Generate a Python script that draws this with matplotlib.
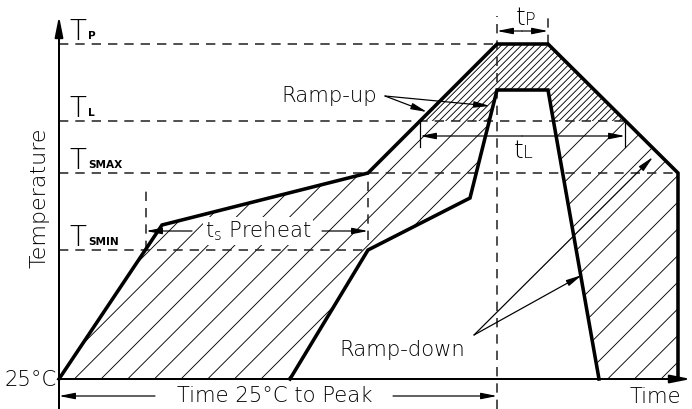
import numpy as np
import matplotlib
matplotlib.use("Agg")
import matplotlib.pyplot as plt
from matplotlib.patches import Polygon, Rectangle

# profile data (time units / temperature units, origin = 25°C at t=0)
outer_t = [0, 103, 309, 438, 489, 619, 619]
outer_T = [0, 154, 206, 335, 335, 206, 0]
inner_t = [231, 309, 411, 438, 489, 540]
inner_T = [0, 129, 181, 289, 289, 0]

level_names = ['P', 'L', 'SMAX', 'SMIN']
level_vals = [335, 258, 206, 129]
level_ends = [438, 566, 619, 309]

t_peak = 438
t_peak_end = 489
ts_start, ts_end = 87, 309
tl_start, tl_end = 361, 566

plt.rcParams['font.family'] = 'DejaVu Sans'
plt.rcParams['hatch.linewidth'] = 0.8

# low dpi so the hatch spacing matches the drawing
DPI = 80
fig = plt.figure(figsize=(692 / DPI, 409 / DPI), dpi=DPI)
ax = fig.add_axes([0, 0, 1, 1])
ax.set_xlim(-59, 633)
ax.set_ylim(-30, 379)
ax.axis('off')

T_P, T_L, T_SMAX, T_SMIN = level_vals
FS = 19

# hatched area between outer and inner profile
outer_xy = np.column_stack([outer_t, outer_T])
inner_xy = np.column_stack([inner_t, inner_T])

sparse = Polygon(outer_xy, closed=True, facecolor='none', edgecolor='k', lw=0, hatch='/', zorder=1)
dense = Polygon(outer_xy, closed=True, facecolor='none', edgecolor='k', lw=0, hatch='////', zorder=1)
ax.add_patch(sparse)
ax.add_patch(dense)
sparse.set_clip_path(Rectangle((-100, -100), 900, T_L + 100, transform=ax.transData))
dense.set_clip_path(Rectangle((-100, T_L), 900, 300, transform=ax.transData))
ax.add_patch(Polygon(inner_xy, closed=True, facecolor='white', edgecolor='none', zorder=2))

# dashed guide lines
dash = dict(color='#222222', lw=1.4, dashes=(6, 4.5), zorder=3)
for val, end in zip(level_vals, level_ends):
    ax.plot([0, end], [val, val], **dash)
ax.plot([t_peak, t_peak], [-30, 363], **dash)
ax.plot([t_peak_end, t_peak_end], [T_P, 363], **dash)
ax.plot([ts_start, ts_start], [T_SMIN, 189], **dash)
ax.plot([ts_end, ts_end], [139, T_SMAX], **dash)

# profiles
ax.plot(outer_t, outer_T, color='k', lw=3.2, solid_joinstyle='miter', zorder=4)
ax.plot(inner_t, inner_T, color='k', lw=3.2, solid_joinstyle='miter', zorder=4)

# axes with arrows
axis_arrow = dict(arrowstyle='-|>,head_length=1.1,head_width=0.22', color='k',
                  lw=1.8, shrinkA=0, shrinkB=0, mutation_scale=14)
ax.annotate('', xy=(0, 363), xytext=(0, -30), arrowprops=axis_arrow, zorder=5)
ax.annotate('', xy=(632, 0), xytext=(0, 0), arrowprops=axis_arrow, zorder=5)


def arrow(tip, start):
    ax.annotate('', xy=tip, xytext=start,
                arrowprops=dict(arrowstyle='-|>,head_length=0.85,head_width=0.17', color='k',
                                lw=1.1, shrinkA=0, shrinkB=0, mutation_scale=14), zorder=5)


# t_P
arrow((t_peak, 348), (463, 348))
arrow((t_peak_end, 348), (463, 348))
ax.text(457, 354, 't', fontsize=22, fontweight='light', ha='left', va='baseline')
ax.text(466, 354, 'P', fontsize=16, fontweight='light', ha='left', va='baseline')

# t_L
ax.plot([tl_start, tl_start], [232, T_L], color='k', lw=1.1, zorder=5)
ax.plot([tl_end, tl_end], [232, T_L], color='k', lw=1.1, zorder=5)
arrow((tl_start, 243), (463, 243))
arrow((tl_end, 243), (463, 243))
ax.text(455, 221, 't', fontsize=22, fontweight='light', ha='left', va='baseline')
ax.text(464, 221, 'L', fontsize=16, fontweight='light', ha='left', va='baseline')

# preheat
arrow((ts_start, 148), (133, 148))
arrow((ts_end, 148), (263, 148))
ax.text(199, 148, r'$\mathregular{t_s}$ Preheat', fontsize=FS, fontweight='light',
        ha='center', va='center',
        bbox=dict(boxstyle='square,pad=0.1', fc='white', ec='none'), zorder=6)

# time to peak
arrow((0, -17), (96, -17))
arrow((t_peak, -17), (334, -17))
ax.text(216, -17, 'Time 25°C to Peak', fontsize=FS, fontweight='light', ha='center', va='center')

# ramp-up
arrow((368, 267), (326, 283))
arrow((431, 273), (326, 283))
ax.text(318, 283, 'Ramp-up', fontsize=FS, fontweight='light', ha='right', va='center')

# ramp-down
arrow((523, 104), (415, 44))
arrow((594, 222), (415, 44))
ax.text(343, 29, 'Ramp-down', fontsize=FS, fontweight='light', ha='center', va='center')

# axis labels
ax.text(596, -18, 'Time', fontsize=FS, fontweight='light', ha='center', va='center')
ax.text(-2, -1, '25°C', fontsize=FS, fontweight='light', ha='right', va='center')
ax.text(-20, 181, 'Temperature', fontsize=20, fontweight='light', rotation=90,
        ha='center', va='center')

for name, val in zip(level_names, level_vals):
    ax.text(10, val + 4, 'T', fontsize=25, fontweight='light', ha='left', va='baseline')
    ax.text(29, val + 5, name, fontsize=9.5, fontweight='bold', ha='left', va='baseline')

fig.savefig('out.png', dpi=DPI)
